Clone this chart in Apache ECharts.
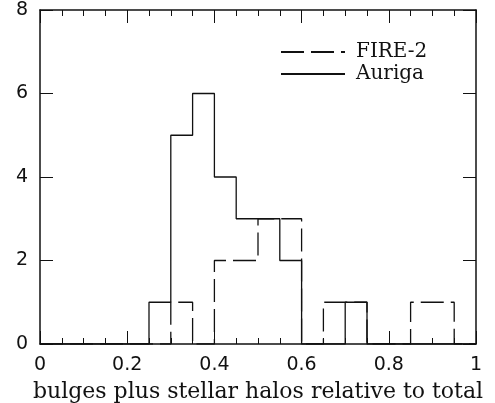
<!DOCTYPE html>
<html>
<head>
<meta charset="utf-8">
<script src="https://cdn.jsdelivr.net/npm/echarts@6/dist/echarts.min.js"></script>
<style>
    html, body { margin: 0; padding: 0; background: #fff; }
    #chart { width: 495px; height: 403px; }
</style>
</head>
<body>
<div id="chart"></div>
<script>
// bin edges 0 .. 1 in steps of 0.05
const binEdges = [0, 0.05, 0.1, 0.15, 0.2, 0.25, 0.3, 0.35, 0.4, 0.45, 0.5,
    0.55, 0.6, 0.65, 0.7, 0.75, 0.8, 0.85, 0.9, 0.95, 1];
const fireCounts = [0, 0, 0, 0, 0, 0, 1, 0, 2, 2, 3, 3, 0, 1, 1, 0, 0, 1, 1, 0];
const aurigaCounts = [0, 0, 0, 0, 0, 1, 5, 6, 4, 3, 3, 2, 0, 0, 1, 0, 0, 0, 0, 0];
const xTicks = [0, 0.2, 0.4, 0.6, 0.8, 1];
const yTicks = [0, 2, 4, 6, 8];

// turn counts into a step outline
const outline = (counts) => {
    let pts = [];
    for (let i = 0; i < counts.length; i++) {
        pts.push([binEdges[i], counts[i]]);
        pts.push([binEdges[i + 1], counts[i]]);
    }
    return pts;
}

const ink = '#111';
const sans = 'DejaVu Sans';
const serif = 'DejaVu Serif';

const xBase = {
    type: 'value',
    min: xTicks[0],
    max: xTicks[xTicks.length - 1],
    interval: 0.2,
    axisLine: { onZero: false, lineStyle: { color: ink, width: 1.5 } },
    axisTick: { inside: true, length: 13, lineStyle: { color: ink, width: 1 } },
    minorTick: { show: true, splitNumber: 4, length: 6, lineStyle: { color: ink, width: 1 } },
    splitLine: { show: false }
};
const yBase = {
    type: 'value',
    min: yTicks[0],
    max: yTicks[yTicks.length - 1],
    interval: 2,
    axisLine: { onZero: false, lineStyle: { color: ink, width: 1.5 } },
    axisTick: { inside: true, length: 13, lineStyle: { color: ink, width: 1 } },
    splitLine: { show: false }
};

var option = {
    animation: false,
    grid: { left: 40, right: 19, top: 10, bottom: 59, outerBoundsMode: 'none' },
    legend: {
        orient: 'vertical',
        left: 280,
        top: 41,
        padding: 0,
        itemWidth: 64,
        itemHeight: 10,
        itemGap: 0,
        itemStyle: { opacity: 0 },
        textStyle: { fontFamily: serif, fontSize: 20, lineHeight: 22, color: ink, padding: [0, 0, 0, 6] },
        data: ['FIRE-2', 'Auriga']
    },
    xAxis: [
        Object.assign({}, xBase, {
            position: 'bottom',
            name: 'bulges plus stellar halos relative to total',
            nameLocation: 'middle',
            nameGap: 37,
            nameTextStyle: { fontFamily: serif, fontSize: 22, color: ink },
            axisLabel: {
                margin: 12, fontFamily: sans, fontSize: 19, color: ink,
                formatter: (v) => String(+v.toFixed(1))
            }
        }),
        Object.assign({}, xBase, {
            position: 'top',
            axisLabel: { show: false }
        })
    ],
    yAxis: [
        Object.assign({}, yBase, {
            position: 'left',
            axisLabel: { margin: 12, fontFamily: sans, fontSize: 19, color: ink }
        }),
        Object.assign({}, yBase, {
            position: 'right',
            axisLabel: { show: false }
        })
    ],
    series: [
        {
            name: 'FIRE-2',
            type: 'line',
            symbol: 'none',
            data: outline(fireCounts),
            lineStyle: { color: ink, width: 1.3, type: [23, 7] },
            itemStyle: { color: ink }
        },
        {
            name: 'Auriga',
            type: 'line',
            symbol: 'none',
            data: outline(aurigaCounts),
            lineStyle: { color: ink, width: 1.3, type: 'solid' },
            itemStyle: { color: ink }
        }
    ]
};

let mychart = echarts.init(document.getElementById('chart'));
mychart.setOption(option);
</script>
</body>
</html>
